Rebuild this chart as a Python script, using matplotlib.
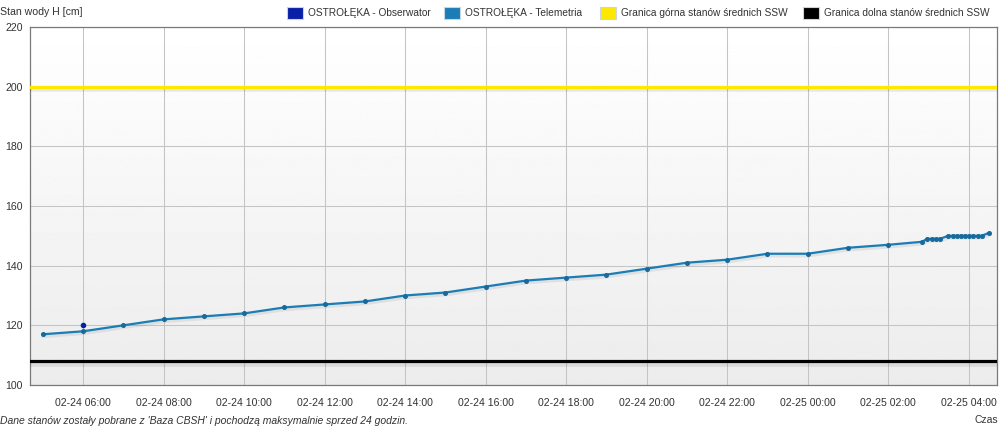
import matplotlib
matplotlib.use("Agg")
import matplotlib.pyplot as plt
import matplotlib.dates as mdates
import matplotlib.patheffects as pe
from matplotlib.patches import Rectangle
import numpy as np
import pandas as pd

# ---------------- data ----------------
tel_times = [
    "2023-02-24 05:00", "2023-02-24 06:00", "2023-02-24 07:00", "2023-02-24 08:00",
    "2023-02-24 09:00", "2023-02-24 10:00", "2023-02-24 11:00", "2023-02-24 12:00",
    "2023-02-24 13:00", "2023-02-24 14:00", "2023-02-24 15:00", "2023-02-24 16:00",
    "2023-02-24 17:00", "2023-02-24 18:00", "2023-02-24 19:00", "2023-02-24 20:00",
    "2023-02-24 21:00", "2023-02-24 22:00", "2023-02-24 23:00", "2023-02-25 00:00",
    "2023-02-25 01:00", "2023-02-25 02:00", "2023-02-25 02:50", "2023-02-25 02:58",
    "2023-02-25 03:05", "2023-02-25 03:11", "2023-02-25 03:17", "2023-02-25 03:29",
    "2023-02-25 03:36", "2023-02-25 03:42", "2023-02-25 03:48", "2023-02-25 03:54",
    "2023-02-25 04:00", "2023-02-25 04:06", "2023-02-25 04:13", "2023-02-25 04:19",
    "2023-02-25 04:30",
]
tel_values = [117, 118, 120, 122, 123, 124, 126, 127, 128, 130, 131, 133, 135, 136,
              137, 139, 141, 142, 144, 144, 146, 147, 148, 149, 149, 149, 149, 150,
              150, 150, 150, 150, 150, 150, 150, 150, 151]

obs_times = ["2023-02-24 06:00"]
obs_values = [120]

upper_ssw = 200
lower_ssw = 108

x_ticks = ["2023-02-24 06:00", "2023-02-24 08:00", "2023-02-24 10:00", "2023-02-24 12:00",
           "2023-02-24 14:00", "2023-02-24 16:00", "2023-02-24 18:00", "2023-02-24 20:00",
           "2023-02-24 22:00", "2023-02-25 00:00", "2023-02-25 02:00", "2023-02-25 04:00"]
y_ticks = [100, 120, 140, 160, 180, 200, 220]
x_range = ["2023-02-24 04:41", "2023-02-25 04:42"]

legend_labels = ["OSTROŁĘKA - Obserwator", "OSTROŁĘKA - Telemetria",
                 "Granica górna stanów średnich SSW", "Granica dolna stanów średnich SSW"]
legend_colors = ["#0a1fa8", "#1b7db5", "#ffe800", "#000000"]

# ---------------- figure ----------------
W, H = 1002, 437
plt.rcParams['font.family'] = ['Liberation Sans', 'DejaVu Sans']
fig = plt.figure(figsize=(W / 100, H / 100), dpi=100)
fig.patch.set_facecolor("white")

L, R, T, B = 30, 997, 27, 385
ax = fig.add_axes([L / W, 1 - B / H, (R - L) / W, (B - T) / H])

tt = pd.to_datetime(tel_times)
ot = pd.to_datetime(obs_times)
xr = pd.to_datetime(x_range)
ax.set_xlim(xr[0], xr[1])
ax.set_ylim(100, 220)

# gradient background
grad = np.linspace(1.0, 0.925, 256).reshape(-1, 1)
ax.imshow(grad, cmap="gray", vmin=0, vmax=1, aspect="auto",
          extent=[mdates.date2num(xr[0]), mdates.date2num(xr[1]), 100, 220],
          origin="upper", zorder=0)

# grid
ax.set_xticks(pd.to_datetime(x_ticks))
ax.set_yticks(y_ticks)
ax.grid(True, color="#c4c4c4", linewidth=0.75, zorder=1)
ax.set_axisbelow(True)
ax.xaxis.set_major_formatter(mdates.DateFormatter("%m-%d %H:%M"))
ax.tick_params(axis="both", length=0, labelsize=7.6, colors="#333333")
ax.tick_params(axis="x", pad=9)
ax.tick_params(axis="y", pad=5)
for s in ax.spines.values():
    s.set_color("#7a7a7a")
    s.set_linewidth(0.9)

shadow = [pe.SimpleLineShadow(offset=(0, -2), shadow_color="#000000", alpha=0.08, linewidth=4), pe.Normal()]

# threshold lines
ax.axhline(upper_ssw, color="#ffe800", linewidth=2.3, zorder=3, path_effects=shadow)
ax.axhline(lower_ssw, color="#000000", linewidth=2.3, zorder=3, path_effects=shadow)

# telemetry
ax.plot(tt, tel_values, color="#1b7db5", linewidth=1.6, zorder=4,
        path_effects=[pe.SimpleLineShadow(offset=(0.5, -1.2), shadow_color="#000000", alpha=0.07, linewidth=3), pe.Normal()])
ax.plot(tt, tel_values, linestyle="none", marker="o", markersize=2.6,
        color="#176b9c", zorder=5)

# observer
ax.plot(ot, obs_values, linestyle="none", marker="o", markersize=3,
        color="#0a1fa8", zorder=6)

# axis title and footer
fig.text(0 / W, 1 - 12 / H, "Stan wody H [cm]", fontsize=7.6, color="#333333",
         ha="left", va="center")
fig.text(0 / W, 1 - 421 / H,
         "Dane stanów zostały pobrane z 'Baza CBSH' i pochodzą maksymalnie sprzed 24 godzin.",
         fontsize=7.5, style="italic", color="#333333", ha="left", va="center")
fig.text(998 / W, 1 - 420 / H, "Czas", fontsize=7.5, color="#333333",
         ha="right", va="center")

# legend (manual)
sw_x = [287, 444, 600, 803]
for x0, lab, col in zip(sw_x, legend_labels, legend_colors):
    fig.patches.append(Rectangle((x0 / W, 1 - 19 / H), 16 / W, 12 / H,
                                 transform=fig.transFigure, facecolor=col,
                                 edgecolor="#c8d4e0", linewidth=0.8))
    fig.text((x0 + 21) / W, 1 - 13 / H, lab, fontsize=7.3, color="#333333",
             ha="left", va="center")

fig.savefig("out.png", dpi=100)
